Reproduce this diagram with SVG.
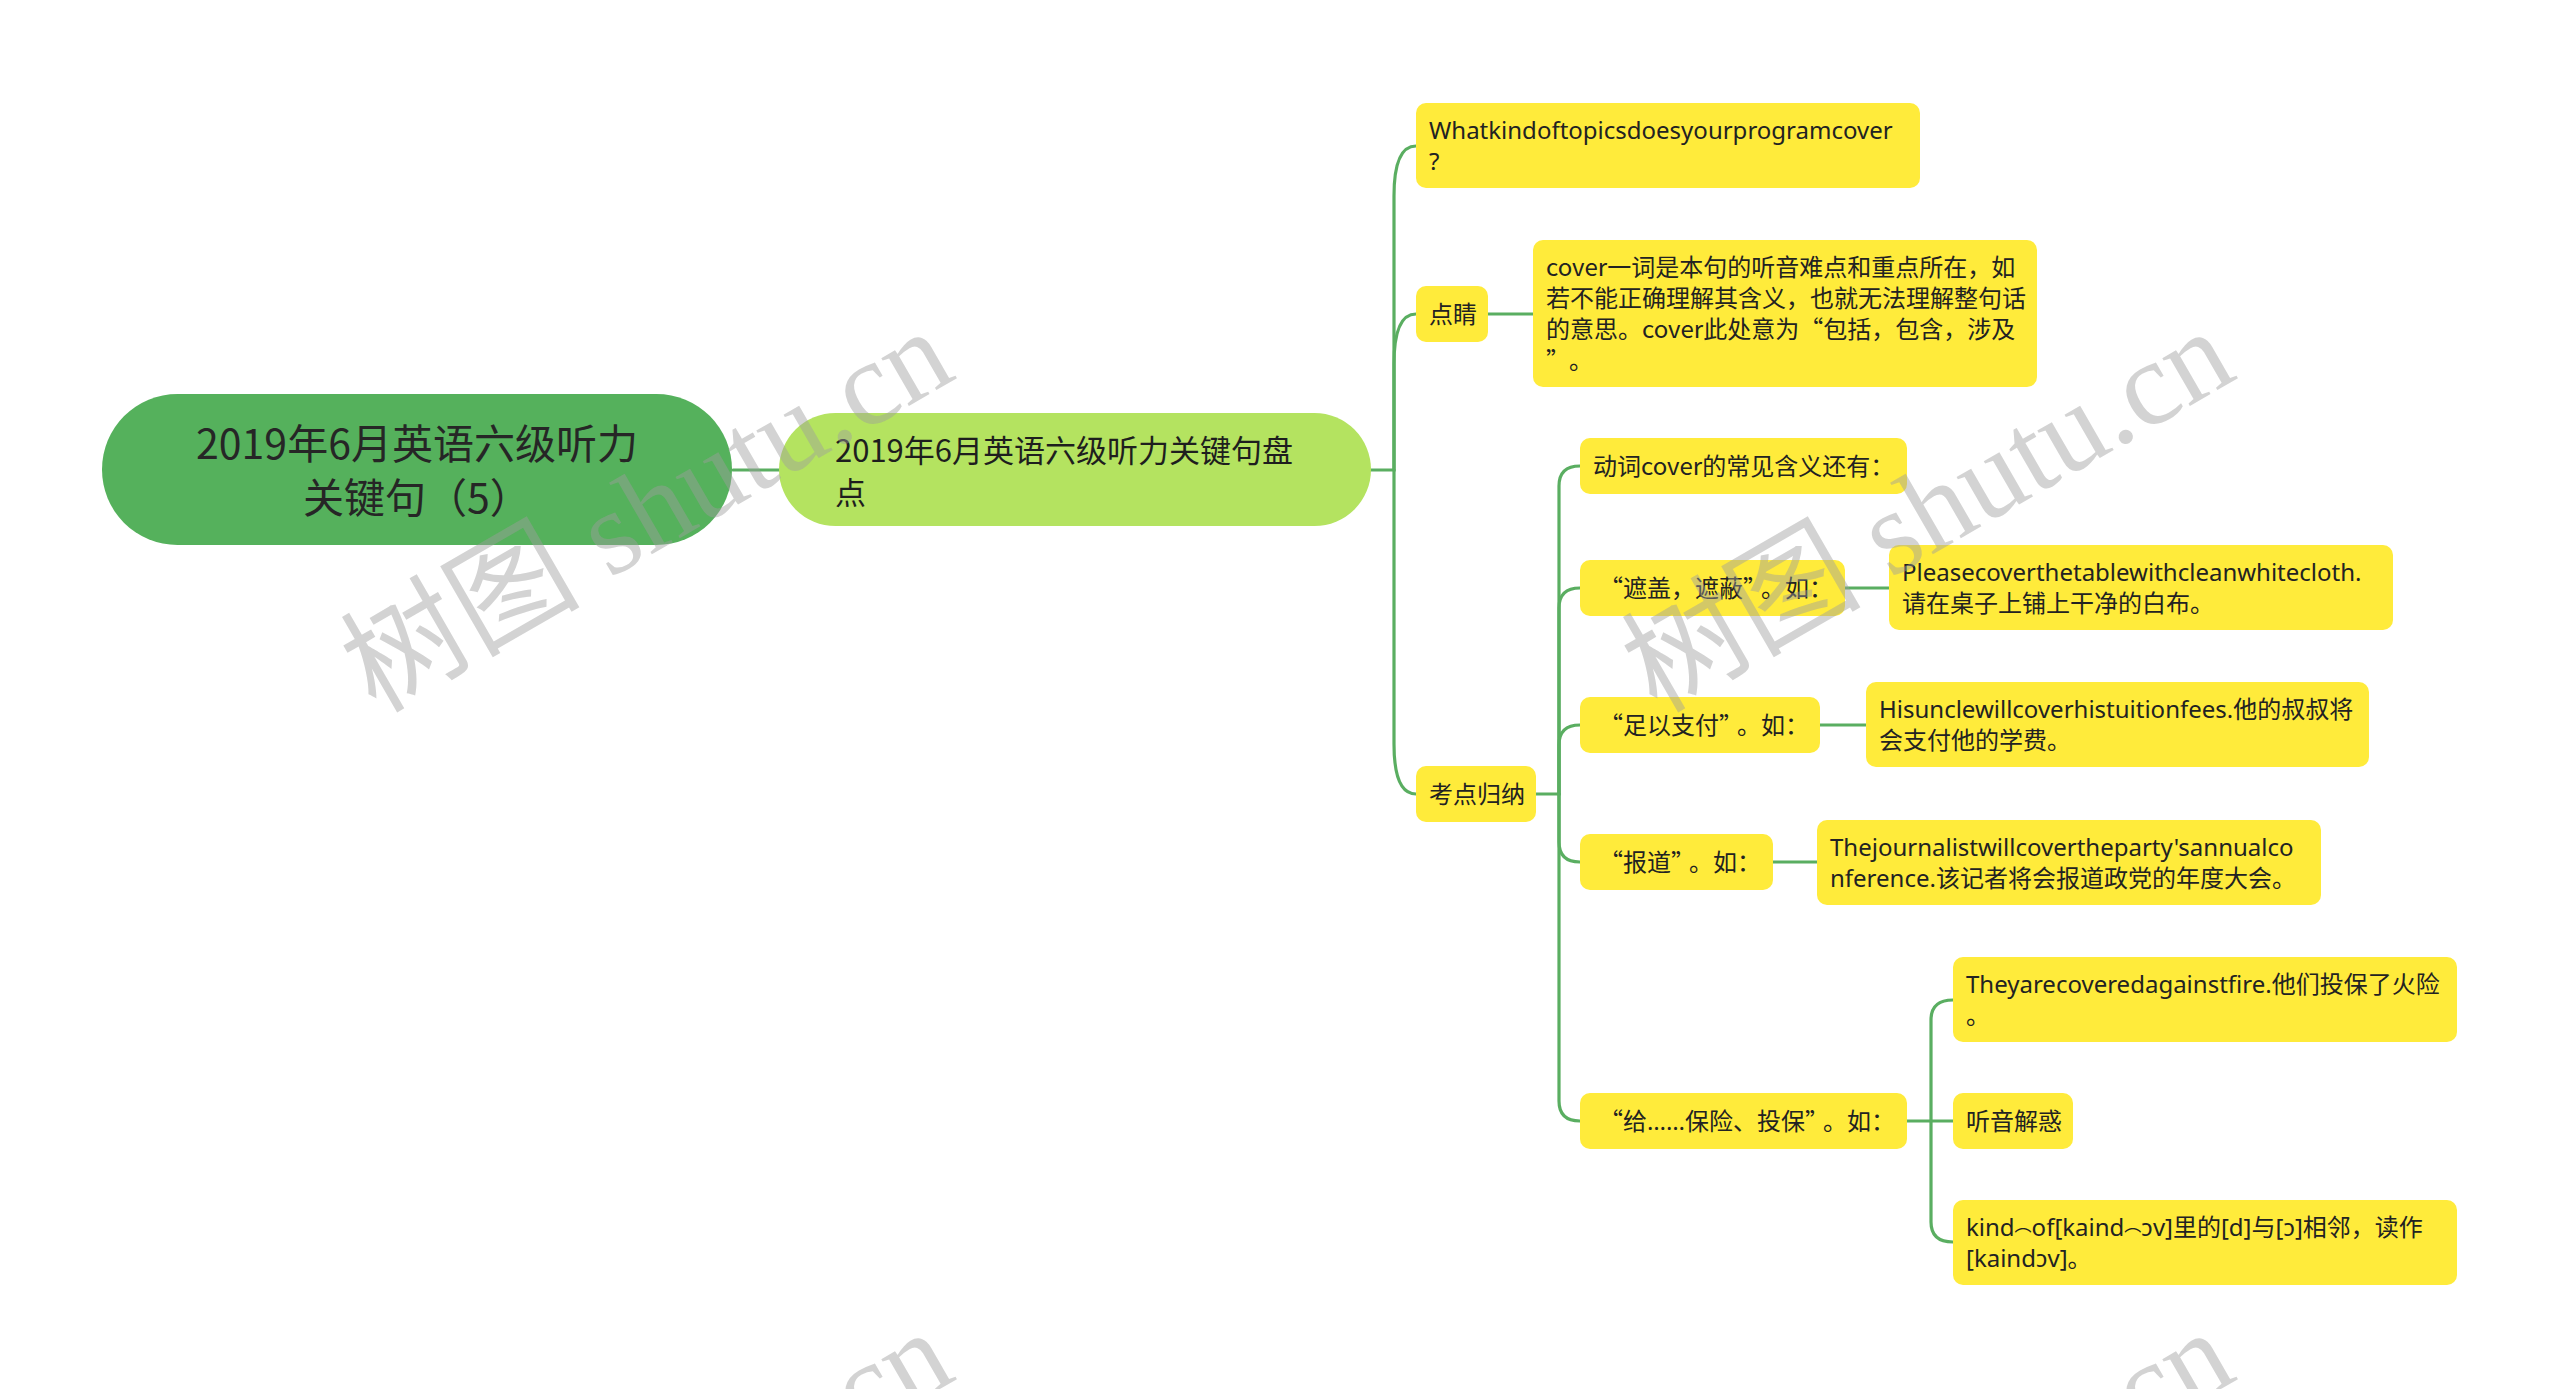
<svg xmlns="http://www.w3.org/2000/svg" width="2560" height="1389" viewBox="0 0 2560 1389">
<style>
.conn{fill:none;stroke:#5aae61;stroke-width:3.2;stroke-linecap:round}
.yb{fill:#ffeb3b}
.t24{font-size:24px;fill:#222}
.cjk{font-family:"Noto Sans CJK SC","Noto Sans",sans-serif}
.lat{font-family:"Noto Sans","Noto Sans CJK SC",sans-serif}
.ell{font-family:"Noto Sans",sans-serif}
.arc{font-size:17px;baseline-shift:-7px}
.wm{font-family:"Liberation Serif","Noto Sans CJK SC",serif;font-size:120px;fill:#9e9e9e;fill-opacity:0.45}
</style>
<rect x="0" y="0" width="2560" height="1389" fill="#ffffff"/>
<g id="connectors">
<path class="conn" d="M733,470 H779"/>
<path class="conn" d="M1371,470 H1394 V196 Q1394,146 1416,146"/>
<path class="conn" d="M1394,470 V364 Q1394,314 1416,314"/>
<path class="conn" d="M1394,470 V744 Q1394,794 1416,794"/>
<path class="conn" d="M1488,314 H1533"/>
<path class="conn" d="M1536,794 H1559 V486 Q1559,466 1580,466"/>
<path class="conn" d="M1559,794 V608 Q1559,588 1580,588"/>
<path class="conn" d="M1559,794 V745 Q1559,725 1580,725"/>
<path class="conn" d="M1559,794 V842 Q1559,862 1580,862"/>
<path class="conn" d="M1559,794 V1101 Q1559,1121 1580,1121"/>
<path class="conn" d="M1845,588 H1889"/>
<path class="conn" d="M1820,725 H1866"/>
<path class="conn" d="M1773,862 H1817"/>
<path class="conn" d="M1907,1121 H1953"/>
<path class="conn" d="M1931,1121 V1020 Q1931,1000 1953,1000"/>
<path class="conn" d="M1931,1121 V1222 Q1931,1242 1953,1242"/>
</g>
<g id="root">
<rect x="102" y="394" width="630" height="151" rx="75.5" fill="#55b15c"/>
<text class="cjk" font-size="41" fill="#262626" text-anchor="middle"><tspan x="417" y="459">2019年6月英语六级听力</tspan><tspan x="417" y="513">关键句（5）</tspan></text>
</g>
<g id="main">
<rect x="779" y="413" width="592" height="113" rx="56.5" fill="#b4e360"/>
<text class="cjk" font-size="31" fill="#1e1e1e"><tspan x="835" y="462">2019年6月英语六级听力关键句盘</tspan><tspan x="835" y="504">点</tspan></text>
</g>
<g id="n-what">
<rect class="yb" x="1416" y="103" width="504" height="85" rx="10"/>
<text class="lat t24"><tspan x="1429" y="139">Whatkindoftopicsdoesyourprogramcover</tspan><tspan x="1429" y="170">?</tspan></text>
</g>
<g id="n-dianjing">
<rect class="yb" x="1416" y="286" width="72" height="56" rx="10"/>
<text class="cjk t24" x="1429" y="323">点睛</text>
</g>
<g id="n-cover">
<rect class="yb" x="1533" y="240" width="504" height="147" rx="10"/>
<text class="cjk t24"><tspan x="1546" y="276">cover一词是本句的听音难点和重点所在，如</tspan><tspan x="1546" y="307">若不能正确理解其含义，也就无法理解整句话</tspan><tspan x="1546" y="338">的意思。cover此处意为“包括，包含，涉及</tspan><tspan x="1546" y="369">”<tspan dx="11">。</tspan></tspan></text>
</g>
<g id="n-kaodian">
<rect class="yb" x="1416" y="766" width="120" height="56" rx="10"/>
<text class="cjk t24" x="1429" y="803">考点归纳</text>
</g>
<g id="n-dongci">
<rect class="yb" x="1580" y="438" width="327" height="56" rx="10"/>
<text class="cjk t24" x="1593" y="475">动词cover的常见含义还有：</text>
</g>
<g id="n-zhegai">
<rect class="yb" x="1580" y="560" width="265" height="56" rx="10"/>
<text class="cjk t24" x="1599" y="597">“遮盖，遮蔽”<tspan dx="6">。</tspan>如：</text>
</g>
<g id="n-please">
<rect class="yb" x="1889" y="545" width="504" height="85" rx="10"/>
<text class="lat t24"><tspan x="1902" y="581">Pleasecoverthetablewithcleanwhitecloth.</tspan><tspan x="1902" y="612">请在桌子上铺上干净的白布。</tspan></text>
</g>
<g id="n-zuyi">
<rect class="yb" x="1580" y="697" width="240" height="56" rx="10"/>
<text class="cjk t24" x="1599" y="734">“足以支付”<tspan dx="6">。</tspan>如：</text>
</g>
<g id="n-his">
<rect class="yb" x="1866" y="682" width="503" height="85" rx="10"/>
<text class="lat t24"><tspan x="1879" y="718">Hisunclewillcoverhistuitionfees.他的叔叔将</tspan><tspan x="1879" y="749">会支付他的学费。</tspan></text>
</g>
<g id="n-baodao">
<rect class="yb" x="1580" y="834" width="193" height="56" rx="10"/>
<text class="cjk t24" x="1599" y="871">“报道”<tspan dx="6">。</tspan>如：</text>
</g>
<g id="n-journalist">
<rect class="yb" x="1817" y="820" width="504" height="85" rx="10"/>
<text class="lat t24"><tspan x="1830" y="856">Thejournalistwillcovertheparty'sannualco</tspan><tspan x="1830" y="887">nference.该记者将会报道政党的年度大会。</tspan></text>
</g>
<g id="n-gei">
<rect class="yb" x="1580" y="1093" width="327" height="56" rx="10"/>
<text class="cjk t24" x="1599" y="1130">“给<tspan class="ell">……</tspan>保险、投保”<tspan dx="6">。</tspan>如：</text>
</g>
<g id="n-theyare">
<rect class="yb" x="1953" y="957" width="504" height="85" rx="10"/>
<text class="lat t24"><tspan x="1966" y="993">Theyarecoveredagainstfire.他们投保了火险</tspan><tspan x="1966" y="1024">。</tspan></text>
</g>
<g id="n-tingyin">
<rect class="yb" x="1953" y="1093" width="120" height="56" rx="10"/>
<text class="cjk t24" x="1966" y="1130">听音解惑</text>
</g>
<g id="n-kind">
<rect class="yb" x="1953" y="1200" width="504" height="85" rx="10"/>
<text class="lat t24"><tspan x="1966" y="1236">kind<tspan class="arc">⌒</tspan>of[kaind<tspan class="arc">⌒</tspan>ɔv]里的[d]与[ɔ]相邻，读作</tspan><tspan x="1966" y="1267">[kaindɔv]。</tspan></text>
</g>
<g id="watermarks">
<text class="wm" text-anchor="middle" transform="translate(647,511) rotate(-30)" x="0" y="40">树图 shutu.cn</text>
<text class="wm" text-anchor="middle" transform="translate(1928,511) rotate(-30)" x="0" y="40">树图 shutu.cn</text>
<text class="wm" text-anchor="middle" transform="translate(647,1512) rotate(-30)" x="0" y="40">树图 shutu.cn</text>
<text class="wm" text-anchor="middle" transform="translate(1928,1512) rotate(-30)" x="0" y="40">树图 shutu.cn</text>
</g>
</svg>
